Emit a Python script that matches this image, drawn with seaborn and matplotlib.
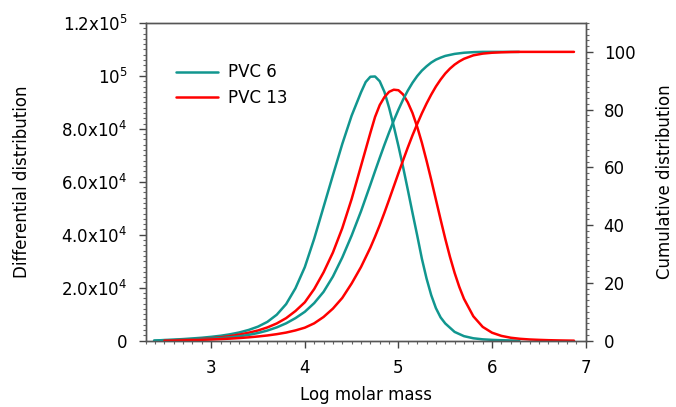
import numpy as np
import matplotlib
matplotlib.use("Agg")
import matplotlib.pyplot as plt
import seaborn as sns
from matplotlib.ticker import MultipleLocator, FixedLocator, FixedFormatter

# log molar mass values
pvc6_x = [2.39, 2.5, 2.6, 2.7, 2.8, 2.9, 3.0, 3.1, 3.2, 3.3, 3.4, 3.5, 3.6, 3.7, 3.8, 3.9,
          4.0, 4.1, 4.2, 4.3, 4.4, 4.5, 4.6,
          4.65, 4.7, 4.75, 4.8, 4.85, 4.9, 4.95, 5.0, 5.05, 5.1, 5.15, 5.2, 5.25, 5.3,
          5.35, 5.4, 5.45, 5.5,
          5.6, 5.7, 5.8, 5.9, 6.0, 6.1, 6.2, 6.29]
pvc6_diff = [0, 250, 400, 600, 850, 1100, 1450, 1850, 2400, 3100, 4050, 5300, 7100, 9800,
             13800, 19800,
             27800, 38500, 50500, 62500, 74300, 85000, 93800,
             97700, 99700, 99800, 98000, 94000, 88000, 81000, 73500, 65500, 57000, 48300,
             39800, 31000, 23500, 17200, 12300, 8800, 6500,
             3300, 1700, 900, 500, 300, 170, 80, 0]
pvc6_cum = [0, 0.1, 0.2, 0.3, 0.4, 0.55, 0.7, 0.9, 1.15, 1.5, 2.0, 2.65, 3.5, 4.6, 6.0, 7.8,
            10.0, 13.0, 16.9, 22.2, 28.8, 36.4, 44.8,
            49.4, 54.0, 58.7, 63.3, 67.8, 72.1, 76.2, 80.0, 83.5, 86.6, 89.3, 91.6, 93.5,
            95.0, 96.3, 97.3, 98.0, 98.6,
            99.3, 99.7, 99.9, 100, 100, 100, 100, 100]

pvc13_x = [2.5, 2.6, 2.7, 2.8, 2.9, 3.0, 3.1, 3.2, 3.3, 3.4, 3.5, 3.6, 3.7, 3.8, 3.9, 4.0,
           4.1, 4.2, 4.3, 4.4, 4.5, 4.6, 4.7,
           4.75, 4.8, 4.85, 4.9, 4.95, 5.0, 5.05, 5.1, 5.15, 5.2, 5.25, 5.3, 5.35, 5.4,
           5.45, 5.5, 5.55, 5.6, 5.65, 5.7,
           5.8, 5.9, 6.0, 6.1, 6.2, 6.3, 6.4, 6.5, 6.6, 6.7, 6.8, 6.875]
pvc13_diff = [0, 150, 300, 450, 650, 900, 1250, 1700, 2300, 3000, 3850, 5000, 6500, 8500,
              11200, 14500, 19500, 25800, 33300, 42500, 53500, 66000, 78500,
              84500, 89000, 92000, 94000, 94800, 94600, 93000, 90000, 86000, 80800, 74800,
              68000, 60800, 53300, 45800, 38500, 31700, 25600, 20300, 15800,
              9200, 5200, 3000, 1800, 1100, 700, 450, 300, 180, 100, 40, 0]
pvc13_cum = [0, 0.05, 0.1, 0.2, 0.3, 0.4, 0.55, 0.7, 0.9, 1.15, 1.45, 1.8, 2.25, 2.8, 3.55,
             4.5, 6.0, 8.2, 11.1, 14.8, 19.8, 25.5, 32.2,
             36.0, 40.0, 44.3, 48.8, 53.4, 58.0, 62.5, 66.9, 71.1, 75.0, 78.7, 82.1, 85.2,
             88.0, 90.4, 92.5, 94.2, 95.6, 96.7, 97.6,
             98.8, 99.4, 99.7, 99.85, 99.95, 100, 100, 100, 100, 100, 100, 100]

left_ticks = [0, 20000, 40000, 60000, 80000, 100000, 120000]
left_labels = ["0", r"2.0x10$^4$", r"4.0x10$^4$", r"6.0x10$^4$", r"8.0x10$^4$",
               r"10$^5$", r"1.2x10$^5$"]
right_ticks = [0, 20, 40, 60, 80, 100]

teal = "#11968f"
red = "#ff0000"

sns.set_style("ticks")
plt.rcParams['font.family'] = ['DejaVu Sans']
plt.rcParams['mathtext.fontset'] = 'dejavusans'
plt.rcParams['font.size'] = 12
plt.rcParams['text.color'] = 'black'
plt.rcParams['axes.labelcolor'] = 'black'

fig = plt.figure(figsize=(6.76, 4.07), dpi=100)
fig.subplots_adjust(left=0.2155, right=0.8664, bottom=0.163, top=0.9435)
ax = fig.add_subplot(111)
ax2 = ax.twinx()

sns.lineplot(x=pvc6_x, y=pvc6_diff, ax=ax, color=teal, lw=1.8, label="PVC 6")
sns.lineplot(x=pvc13_x, y=pvc13_diff, ax=ax, color=red, lw=1.8, label="PVC 13")
sns.lineplot(x=pvc6_x, y=pvc6_cum, ax=ax2, color=teal, lw=1.8, legend=False)
sns.lineplot(x=pvc13_x, y=pvc13_cum, ax=ax2, color=red, lw=1.8, legend=False)

ax.set_xlim(2.3, 7)
ax.set_ylim(0, 120000)
ax2.set_ylim(0, 110)

ax.xaxis.set_major_locator(MultipleLocator(1))
ax.xaxis.set_minor_locator(MultipleLocator(0.1))
ax.yaxis.set_major_locator(FixedLocator(left_ticks))
ax.yaxis.set_major_formatter(FixedFormatter(left_labels))
ax.yaxis.set_minor_locator(MultipleLocator(2000))
ax2.yaxis.set_major_locator(FixedLocator(right_ticks))
ax2.yaxis.set_minor_locator(MultipleLocator(2))

for a in (ax, ax2):
    a.tick_params(which='major', direction='out', length=5, width=1, colors='#444444',
                  labelcolor='black', labelsize=12, pad=8)
    a.tick_params(which='minor', direction='out', length=2.5, width=0.8, colors='#666666')
    for s in a.spines.values():
        s.set_color('#555555')
        s.set_linewidth(1)
ax.tick_params(axis='x', pad=8)

ax.set_xlabel("Log molar mass", fontsize=12, labelpad=7, color='black')
ax.set_ylabel("Differential distribution", fontsize=12, labelpad=22, color='black')
ax2.set_ylabel("Cumulative distribution", fontsize=12, labelpad=15, color='black')

leg = ax.legend(loc='upper left', bbox_to_anchor=(0.035, 0.92), frameon=False, fontsize=12,
                handlelength=2.5, handletextpad=0.6, labelspacing=0.45)
for t in leg.get_texts():
    t.set_color('black')

fig.savefig("out.png", dpi=100)
